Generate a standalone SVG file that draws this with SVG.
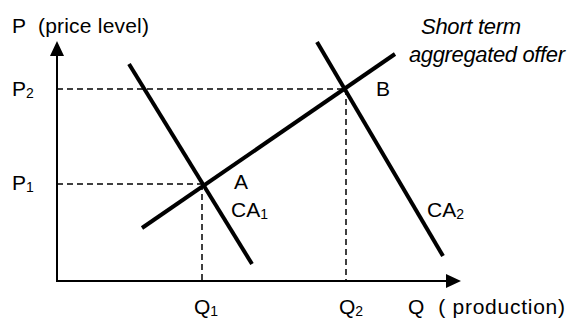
<svg xmlns="http://www.w3.org/2000/svg" width="571" height="320" viewBox="0 0 571 320">
<style>
text{font-family:"Liberation Sans",Arial,sans-serif;font-size:21px;fill:#000;white-space:pre}
.it{font-style:italic;font-size:22px}
.sub{font-size:14px}
.axis{stroke:#000;stroke-width:2;fill:none}
.curve{stroke:#000;stroke-width:4;fill:none}
.dash{stroke:#000;stroke-width:1.5;stroke-dasharray:6,4;fill:none}
</style>
<rect width="571" height="320" fill="#fff"/>
<g id="axes">
<line class="axis" x1="57" y1="281" x2="57" y2="52"/>
<polygon points="57,41 50,56 64,56" fill="#000"/>
<line class="axis" x1="56" y1="281" x2="450" y2="281"/>
<polygon points="461,281 446,274 446,288" fill="#000"/>
</g>
<g id="connectors">
<line class="dash" x1="57" y1="89" x2="345" y2="89"/>
<line class="dash" x1="57" y1="184" x2="203" y2="184"/>
<line class="dash" x1="202" y1="184" x2="202" y2="281"/>
<line class="dash" x1="346" y1="89" x2="346" y2="281"/>
</g>
<g id="CA1"><line class="curve" x1="129" y1="64" x2="252" y2="264"/></g>
<g id="supply"><line class="curve" x1="142" y1="228" x2="395" y2="54"/></g>
<g id="CA2"><line class="curve" x1="317" y1="42" x2="443" y2="256"/></g>
<g id="labels">
<text x="12" y="33" textLength="137" xml:space="preserve">P  (price level)</text>
<text class="it" x="421" y="34" textLength="100">Short term</text>
<text class="it" x="409" y="62" textLength="156">aggregated offer</text>
<text x="12" y="96">P<tspan class="sub" dy="2">2</tspan></text>
<text x="12" y="190">P<tspan class="sub" dy="2">1</tspan></text>
<text x="376" y="96">B</text>
<text x="234" y="189">A</text>
<text x="231" y="217">CA<tspan class="sub" dy="2">1</tspan></text>
<text x="427" y="217">CA<tspan class="sub" dy="2">2</tspan></text>
<text x="194" y="314">Q<tspan class="sub" dy="2">1</tspan></text>
<text x="339" y="314">Q<tspan class="sub" dy="2">2</tspan></text>
<text x="408" y="314" textLength="157" xml:space="preserve">Q  ( production)</text>
</g>
</svg>
